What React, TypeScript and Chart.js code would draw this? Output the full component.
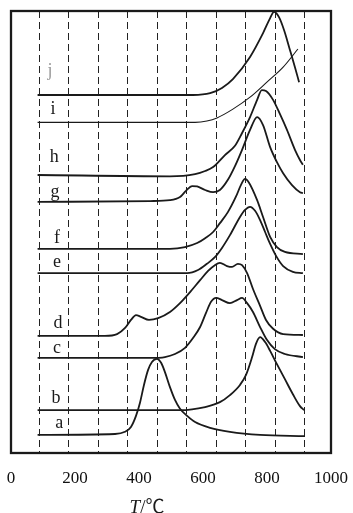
import React, { useEffect, useRef } from 'react';
import { Chart, registerables } from 'chart.js';

Chart.register(...registerables);

// Temperatures of the dashed reference lines (°C)
const gridTemps = [100, 200, 300, 400, 500, 600, 700, 800, 900, 1000];
// Printed tick labels of the temperature axis
const tickLabels = [0, 200, 400, 600, 800, 1000];
// Curve names, bottom to top
const curveNames = ['a', 'b', 'c', 'd', 'e', 'f', 'g', 'h', 'i', 'j'];

// Each curve: [temperature, stacked signal] pairs
const curveA: [number, number][] = [
  [95, 4.1], [357, 4.3], [391, 4.8], [411, 5.9], [428, 8.4], [442, 11.5], [455, 15.4],
  [469, 18.8], [482, 20.6], [499, 21.3], [513, 20.4], [526, 18.3], [543, 14.9], [560, 12.0],
  [577, 10.0], [601, 8.4], [628, 7.0], [679, 5.7], [746, 4.8], [848, 4.1], [1000, 3.8],
];
const curveB: [number, number][] = [
  [95, 9.7], [577, 9.7], [662, 10.4], [712, 11.5], [746, 13.1], [780, 15.4], [800, 17.6],
  [821, 21.7], [834, 24.7], [848, 26.2], [865, 25.1], [882, 23.1], [905, 20.1], [932, 16.7],
  [959, 13.3], [983, 10.6], [997, 9.7],
];
const curveC: [number, number][] = [
  [95, 21.5], [476, 21.5], [526, 21.7], [560, 22.4], [594, 23.8], [621, 26.0], [645, 28.5],
  [665, 31.7], [682, 34.2], [699, 35.1], [719, 34.6], [746, 33.9], [770, 34.6], [787, 35.1],
  [804, 33.9], [824, 31.9], [848, 28.5], [871, 25.6], [898, 23.5], [932, 22.4], [993, 21.7],
];
const curveD: [number, number][] = [
  [95, 26.5], [323, 26.5], [364, 26.9], [391, 28.3], [411, 30.1], [428, 31.2], [445, 30.8],
  [472, 30.1], [503, 30.5], [543, 31.9], [577, 33.9], [611, 36.4], [645, 39.1], [672, 41.2],
  [695, 42.5], [712, 43.0], [736, 42.3], [753, 42.1], [773, 42.8], [787, 42.5], [804, 40.7],
  [824, 37.1], [848, 33.3], [868, 30.1], [892, 28.1], [926, 26.9], [993, 26.7],
];
const curveE: [number, number][] = [
  [95, 40.7], [601, 40.7], [638, 41.4], [668, 42.8], [695, 44.3], [719, 46.4], [746, 49.3],
  [780, 53.4], [797, 55.0], [814, 55.7], [831, 54.8], [848, 52.7], [865, 50.0], [882, 47.3],
  [902, 44.6], [926, 42.3], [959, 41.0], [993, 40.7],
];
const curveF: [number, number][] = [
  [95, 46.2], [543, 46.2], [594, 46.6], [635, 47.5], [662, 48.6], [689, 50.0], [712, 52.0],
  [739, 54.5], [767, 58.1], [783, 60.6], [797, 62.0], [811, 61.1], [838, 57.2], [858, 53.4],
  [882, 48.9], [905, 46.6], [932, 45.5], [993, 45.0],
];
const curveG: [number, number][] = [
  [95, 56.8], [476, 57.0], [543, 57.2], [577, 57.9], [597, 59.3], [618, 60.4], [635, 60.3],
  [662, 59.5], [689, 59.0], [712, 59.5], [739, 61.8], [763, 64.9], [787, 68.6], [814, 73.1],
  [838, 76.0], [858, 74.2], [882, 69.2], [905, 65.8], [926, 63.3], [956, 60.6], [983, 59.0],
  [993, 58.8],
];
const curveH: [number, number][] = [
  [95, 62.9], [543, 62.6], [628, 63.1], [662, 63.8], [689, 64.7], [729, 67.4], [763, 69.5],
  [787, 72.4], [814, 76.0], [838, 79.9], [854, 82.1], [868, 81.9], [892, 79.9], [915, 76.7],
  [939, 73.1], [966, 68.6], [983, 66.3], [993, 65.2],
];
const curveI: [number, number][] = [
  [95, 74.8], [628, 74.8], [668, 75.1], [702, 75.8], [756, 77.8], [814, 80.5], [871, 83.9],
  [926, 87.3], [976, 91.4],
];
const curveJ: [number, number][] = [
  [95, 81.0], [621, 81.0], [679, 81.4], [719, 82.6], [756, 84.6], [814, 89.6], [858, 95.0],
  [882, 98.4], [895, 99.8], [912, 98.6], [929, 95.7], [949, 91.2], [966, 87.3], [980, 83.9],
];
const curves = [curveA, curveB, curveC, curveD, curveE, curveF, curveG, curveH, curveI, curveJ];

// Where each curve's letter sits (temperature, signal)
const labelTemps = [168, 157, 161, 164, 161, 161, 154, 151, 147, 137];
const labelSignals = [5.7, 11.3, 22.6, 28.3, 42.1, 47.5, 57.9, 65.8, 76.7, 85.3];

const SERIF = "'Liberation Serif', 'Times New Roman', 'Noto Sans CJK SC', serif";
const INK = '#1a1a1a';

export default function App() {
  const ref = useRef<HTMLCanvasElement>(null);

  useEffect(() => {
    const canvas = ref.current;
    if (!canvas) return;

    const decorPlugin = {
      id: 'decor',
      afterDraw(chart: any) {
        const { ctx, chartArea: a, scales } = chart;
        ctx.save();
        // frame
        ctx.strokeStyle = INK;
        ctx.lineWidth = 2.3;
        ctx.strokeRect(a.left, a.top, a.right - a.left, a.bottom - a.top);
        // curve letters
        ctx.font = `18px ${SERIF}`;
        ctx.textAlign = 'center';
        ctx.textBaseline = 'alphabetic';
        curveNames.forEach((n, i) => {
          ctx.fillStyle = n === 'j' ? '#9a9a9a' : INK;
          ctx.fillText(n, scales.x.getPixelForValue(labelTemps[i]), scales.y.getPixelForValue(labelSignals[i]));
        });
        // axis title: italic T, upright /℃
        const cx = a.left + 0.425 * (a.right - a.left);
        const cy = chart.height - 5;
        ctx.textBaseline = 'middle';
        ctx.textAlign = 'left';
        ctx.fillStyle = INK;
        const fItal = `italic 19px ${SERIF}`;
        const fReg = `19px ${SERIF}`;
        ctx.font = fItal;
        const w1 = ctx.measureText('T').width;
        ctx.font = fReg;
        const w2 = ctx.measureText('/℃').width;
        const x0 = cx - (w1 + w2) / 2;
        ctx.font = fItal;
        ctx.fillText('T', x0, cy);
        ctx.font = fReg;
        ctx.fillText('/℃', x0 + w1, cy);
        ctx.restore();
      },
    };

    const chart = new Chart(canvas, {
      type: 'line',
      data: {
        datasets: curves.map((pts, i) => ({
          label: curveNames[i],
          data: pts.map(([x, y]) => ({ x, y })),
          borderColor: INK,
          borderWidth: curveNames[i] === 'i' ? 1.1 : 1.8,
          pointRadius: 0,
          fill: false,
          cubicInterpolationMode: 'monotone' as const,
          xAxisID: 'x',
          yAxisID: 'y',
        })),
      },
      options: {
        animation: false,
        responsive: true,
        maintainAspectRatio: false,
        layout: { padding: { left: 11, right: 22, top: 11, bottom: 21.6 } },
        plugins: { legend: { display: false }, tooltip: { enabled: false }, title: { display: false } },
        scales: {
          x: {
            type: 'linear',
            position: 'bottom',
            min: 5,
            max: 1088,
            afterBuildTicks: (s: any) => {
              s.ticks = gridTemps.map((v) => ({ value: v }));
            },
            ticks: { display: false },
            grid: { display: true, drawTicks: false, color: '#222', lineWidth: 1 },
            border: { display: false, dash: [7, 4] },
          },
          xt: {
            type: 'linear',
            axis: 'x',
            position: 'bottom',
            min: 0,
            max: 1000,
            afterBuildTicks: (s: any) => {
              s.ticks = tickLabels.map((v) => ({ value: v }));
            },
            ticks: {
              padding: 3,
              color: '#111',
              font: { family: SERIF, size: 17 },
              maxRotation: 0,
              autoSkip: false,
              callback: (v: any) => String(v),
            },
            grid: { display: true, drawOnChartArea: false, drawTicks: true, tickLength: 12, tickColor: 'rgba(0,0,0,0)' },
            border: { display: false },
          },
          y: { type: 'linear', min: 0, max: 100, display: false },
        },
      },
      plugins: [decorPlugin],
    } as any);

    return () => chart.destroy();
  }, []);

  return (
    <div style={{ position: 'fixed', left: 0, top: 0, width: 353, height: 513, background: '#fff' }}>
      <canvas ref={ref} />
    </div>
  );
}
